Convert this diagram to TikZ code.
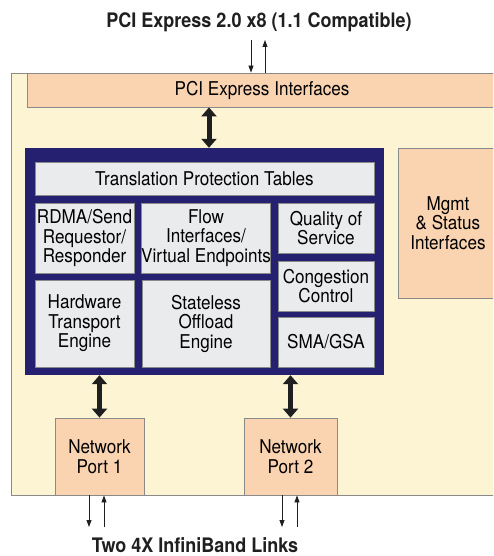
\documentclass[tikz,border=0pt]{standalone}
\usepackage{fontspec}
\setmainfont{TeX Gyre Heros}[FakeStretch=0.9]
\usetikzlibrary{arrows.meta}
\definecolor{panel}{HTML}{FDF4D4}
\definecolor{peachc}{HTML}{FAD3B0}
\definecolor{block}{HTML}{EAEBED}
\definecolor{navy}{HTML}{25206F}
\definecolor{edge}{HTML}{8A8A8A}

\begin{document}
\begin{tikzpicture}[x=1pt,y=-1pt]
\tikzstyle{every node}+=[inner sep=0pt, align=center, font=\fontsize{19}{19.5}\selectfont]
\tikzstyle{blk}=[draw=edge, line width=0.8pt, fill=block]
\tikzstyle{peach}=[draw=edge, line width=0.8pt, fill=peachc]
\tikzstyle{fat}=[line width=5pt, {Triangle[width=15pt,length=9pt]}-{Triangle[width=15pt,length=9pt]}, black!88]
\tikzstyle{wire}=[line width=0.8pt, -{Triangle[width=5pt,length=7pt]}, black!88]
\tikzstyle{title}=[font=\fontsize{20}{22}\selectfont\bfseries, black!88]
\useasboundingbox (0,0) rectangle (493,556);
\clip (0,0) rectangle (493,556);
\fill[panel] (11,73) rectangle (500,495);
\draw[edge, line width=0.8pt] (500,73) -- (11,73) -- (11,495) -- (500,495);
\node[title] (top) at (259,22) {PCI Express 2.0 x8 (1.1 Compatible)};
\node[title] (bot) at (195,545) {Two 4X InfiniBand Links};
\node[peach, minimum width=470pt, minimum height=34pt] (pcie) at (262,90) {PCI Express Interfaces};
\node[peach, minimum width=100pt, minimum height=150pt] (mgmt) at (448,223) {Mgmt\\ \& Status\\ Interfaces};
\node[fill=navy, minimum width=359pt, minimum height=227pt] (core) at (204.5,261.5) {};
\node[blk, minimum width=339pt, minimum height=33pt] (tpt) at (204.5,178.5) {Translation Protection Tables};
\node[blk, minimum width=99pt, minimum height=70pt] (rdma) at (84.5,238) {RDMA/Send\\Requestor/\\Responder};
\node[blk, minimum width=128pt, minimum height=70pt] (flow) at (206,238) {Flow\\Interfaces/\\Virtual Endpoints};
\node[blk, minimum width=96pt, minimum height=50pt] (qos) at (326,228) {Quality of\\Service};
\node[blk, minimum width=96pt, minimum height=50pt] (cong) at (326,286) {Congestion\\Control};
\node[blk, minimum width=96pt, minimum height=50pt] (sma) at (326,342) {SMA/GSA};
\node[blk, minimum width=99pt, minimum height=87pt] (hw) at (84.5,323.5) {Hardware\\Transport\\Engine};
\node[blk, minimum width=128pt, minimum height=87pt] (sol) at (206,323.5) {Stateless\\Offload\\Engine};
\node[peach, minimum width=89pt, minimum height=77pt] (port1) at (99.5,456.5) {Network\\Port 1};
\node[peach, minimum width=93pt, minimum height=77pt] (port2) at (290.5,456.5) {Network\\Port 2};
\coordinate (in1) at (251,40);
\coordinate (out1) at (265,40);
\coordinate (lnk1) at (89,527);
\coordinate (lnk2) at (104,527);
\coordinate (lnk3) at (282,527);
\coordinate (lnk4) at (297,527);
\draw[wire] (in1) -- (in1 |- pcie.north);
\draw[wire] (out1 |- pcie.north) -- (out1);
\draw[fat] (209,0 |- pcie.south) -- (209,0 |- core.north);
\draw[fat] (port1.north |- core.south) -- (port1.north);
\draw[fat] (port2.north |- core.south) -- (port2.north);
\draw[wire] (lnk1 |- port1.south) -- (lnk1);
\draw[wire] (lnk2) -- (lnk2 |- port1.south);
\draw[wire] (lnk3 |- port2.south) -- (lnk3);
\draw[wire] (lnk4) -- (lnk4 |- port2.south);
\end{tikzpicture}
\end{document}
